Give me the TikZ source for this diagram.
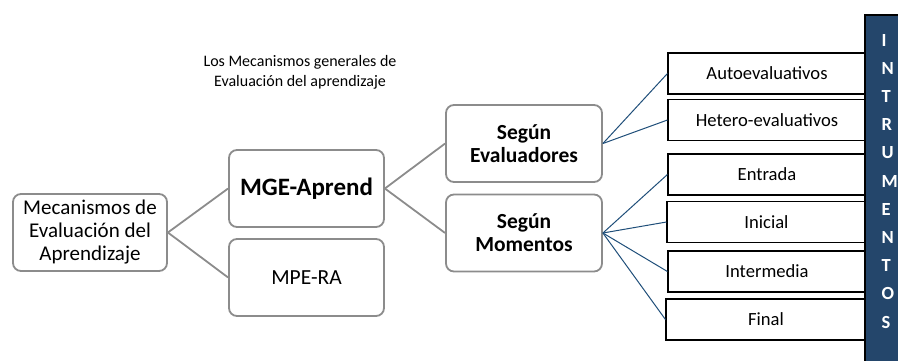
\documentclass[tikz,border=0pt]{standalone}
\usepackage{fontspec}
\setmainfont{Carlito}
\usepackage{xcolor}
\definecolor{boxgray}{RGB}{140,140,140}
\definecolor{linkblue}{RGB}{31,78,121}
\definecolor{barblue}{RGB}{36,70,107}
\tikzset{
    mainbox/.style={draw=boxgray, line width=1.8pt, rounded corners=8pt, fill=white,
        minimum width=155pt, minimum height=77pt, align=center, inner sep=2pt},
    leafbox/.style={draw=black, line width=1.1pt, fill=white,
        minimum width=198pt, minimum height=41pt, font=\fontsize{18.6}{21}\selectfont},
    graylink/.style={draw=boxgray, line width=1.8pt},
    bluelink/.style={draw=linkblue, line width=1pt},
    barletter/.style={anchor=west, text=white, inner sep=0pt,
        font=\fontsize{18.5}{22}\selectfont\bfseries}
}

\begin{document}
\begin{tikzpicture}[x=1pt, y=-1pt]
    % Frame of the picture
    \useasboundingbox (0,0) rectangle (898,360);

    % Title text
    \node[align=center, font=\fontsize{16}{20}\selectfont] (titulo) at (300,72)
        {Los Mecanismos generales de\\Evaluaci\'on del aprendizaje};

    % Main boxes
    \node[mainbox, minimum width=154pt, font=\fontsize{21}{23}\selectfont] (raiz) at (90,232.5)
        {Mecanismos de\\Evaluaci\'on del\\Aprendizaje};
    \node[mainbox, font=\fontsize{25}{28}\selectfont\bfseries] (mge) at (306.5,188.5) {MGE-Aprend};
    \node[mainbox, font=\fontsize{21.5}{24}\selectfont] (mpe) at (306.5,277.5) {MPE-RA};
    \node[mainbox, minimum width=156pt, font=\fontsize{21.5}{23}\selectfont\bfseries] (evaluadores) at (524,143.5)
        {Seg\'un\\Evaluadores};
    \node[mainbox, minimum width=156pt, font=\fontsize{21.5}{23}\selectfont\bfseries] (momentos) at (524,233)
        {Seg\'un\\Momentos};

    % Leaf boxes
    \node[leafbox] (auto) at (767,73.5) {Autoevaluativos};
    \node[leafbox] (hetero) at (767,120) {Hetero-evaluativos};
    \node[leafbox] (entrada) at (767,174.5) {Entrada};
    \node[leafbox, minimum width=199pt] (inicial) at (766.5,222) {Inicial};
    \node[leafbox] (intermedia) at (767,271.5) {Intermedia};
    \node[leafbox, minimum width=200pt] (final) at (766,319.5) {Final};

    % Gray connectors
    \draw[graylink] (raiz.east) -- (mge.west);
    \draw[graylink] (raiz.east) -- (mpe.west);
    \draw[graylink] (mge.east) -- (evaluadores.west);
    \draw[graylink] (mge.east) -- (momentos.west);

    % Blue connectors
    \foreach \hoja in {auto,hetero}
        \draw[bluelink] (evaluadores.east) -- (\hoja.west);
    \foreach \hoja in {entrada,inicial,intermedia,final}
        \draw[bluelink] (momentos.east) -- (\hoja.west);

    % Side bar
    \draw[black, line width=1.2pt, fill=barblue] (865,15) rectangle (902,364);
    \foreach \letra [count=\i] in {I,N,T,R,U,M,E,N,T,O,S}
        \node[barletter] (letra\i) at (881.5,{40+28.2*(\i-1)}) {\letra};
\end{tikzpicture}
\end{document}
